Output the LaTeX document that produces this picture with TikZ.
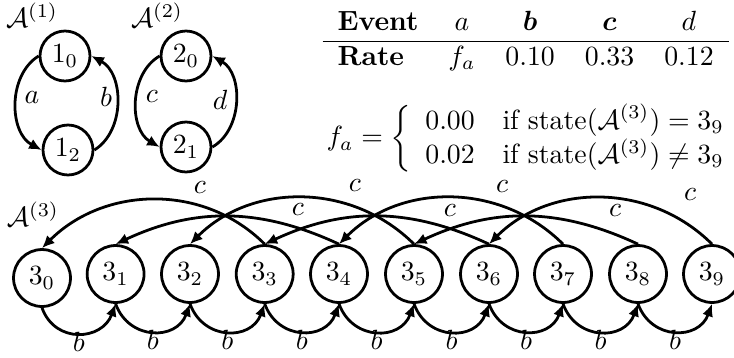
\documentclass[tikz,border=0pt]{standalone}
\usepackage{amsmath,amssymb}
\usetikzlibrary{arrows.meta}
\begin{document}
\begin{tikzpicture}[x=0.36pt,y=0.36pt,
  st/.style={circle,draw,line width=1pt,minimum size=18pt,inner sep=0pt},
  stb/.style={circle,draw,line width=1pt,minimum size=20.5pt,inner sep=0pt},
  arr/.style={line width=1pt,-{Latex[length=4.5pt,width=4pt]}},
  lbl/.style={inner sep=0pt},
  hi/.style={arr,out=135,in=45},
  lo/.style={arr,out=155,in=25},
  bb/.style={arr,out=-70,in=-110,looseness=1.35}]
\useasboundingbox (0,0) rectangle (734,-357);
% automata 1 and 2
\node[lbl] (A1) at (32,-15) {$\mathcal{A}^{(1)}$};
\node[lbl] (A2) at (157,-15) {$\mathcal{A}^{(2)}$};
\node[st] (n10) at (65,-56) {$1_0$};
\node[st] (n12) at (68,-150) {$1_2$};
\node[st] (n20) at (186,-56) {$2_0$};
\node[st] (n21) at (186,-147) {$2_1$};
\draw[arr] (n10.west) to[bend right=60] (n12.west);
\draw[arr] (n12.east) to[bend right=60] (n10.east);
\draw[arr] (n20.west) to[bend right=60] (n21.west);
\draw[arr] (n21.east) to[bend right=60] (n20.east);
\node[lbl] (la) at (32,-98) {$a$};
\node[lbl] (lb) at (106,-97) {$b$};
\node[lbl] (lc) at (152,-97) {$c$};
\node[lbl] (ld) at (220,-100) {$d$};
% table
\node[anchor=north west,inner sep=0pt] (tab) at (322,-7) {\setlength{\tabcolsep}{5.4pt}\begin{tabular}{lcccc}
\textbf{Event} & $a$ & $\boldsymbol{b}$ & $\boldsymbol{c}$ & $d$\\ \hline
\textbf{Rate} & $f_a$ & $0.10$ & $0.33$ & $0.12$
\end{tabular}};
% rate function
\node[anchor=west,inner sep=0pt] (fa) at (326,-139) {$f_a = \left\{\begin{array}{ll}
0.00 & \text{if state}(\mathcal{A}^{(3)}) = 3_9\\
0.02 & \text{if state}(\mathcal{A}^{(3)}) \neq 3_9
\end{array}\right.$};
% automaton 3
\node[lbl] (A3) at (33,-214) {$\mathcal{A}^{(3)}$};
\node[stb] (s0) at (42,-278) {$3_0$};
\node[stb] (s1) at (115.6,-274) {$3_1$};
\node[stb] (s2) at (190,-274) {$3_2$};
\node[stb] (s3) at (264.7,-274) {$3_3$};
\node[stb] (s4) at (339,-274) {$3_4$};
\node[stb] (s5) at (414,-274) {$3_5$};
\node[stb] (s6) at (489,-274) {$3_6$};
\node[stb] (s7) at (563,-274) {$3_7$};
\node[stb] (s8) at (638,-274) {$3_8$};
\node[stb] (s9) at (712,-274) {$3_9$};
\foreach \a/\b in {0/1,1/2,2/3,3/4,4/5,5/6,6/7,7/8,8/9}{
  \draw[bb] (s\a.south) to node[midway,below,inner sep=0pt,yshift=1pt] (lb\a) {$b$} (s\b.south);
}
\draw[hi] (s3.north) to (s0.north);
\draw[lo] (s4.north) to (s1.north);
\draw[hi] (s5.north) to (s2.north);
\draw[lo] (s6.north) to (s3.north);
\draw[hi] (s7.north) to (s4.north);
\draw[lo] (s8.north) to (s5.north);
\draw[hi] (s9.north) to (s6.north);
\node[lbl] (c30) at (200,-188) {$c$};
\node[lbl] (c41) at (298,-210) {$c$};
\node[lbl] (c52) at (355,-186) {$c$};
\node[lbl] (c63) at (450,-211) {$c$};
\node[lbl] (c74) at (502,-187) {$c$};
\node[lbl] (c85) at (615,-211) {$c$};
\node[lbl] (c96) at (690,-195) {$c$};
\end{tikzpicture}
\end{document}
